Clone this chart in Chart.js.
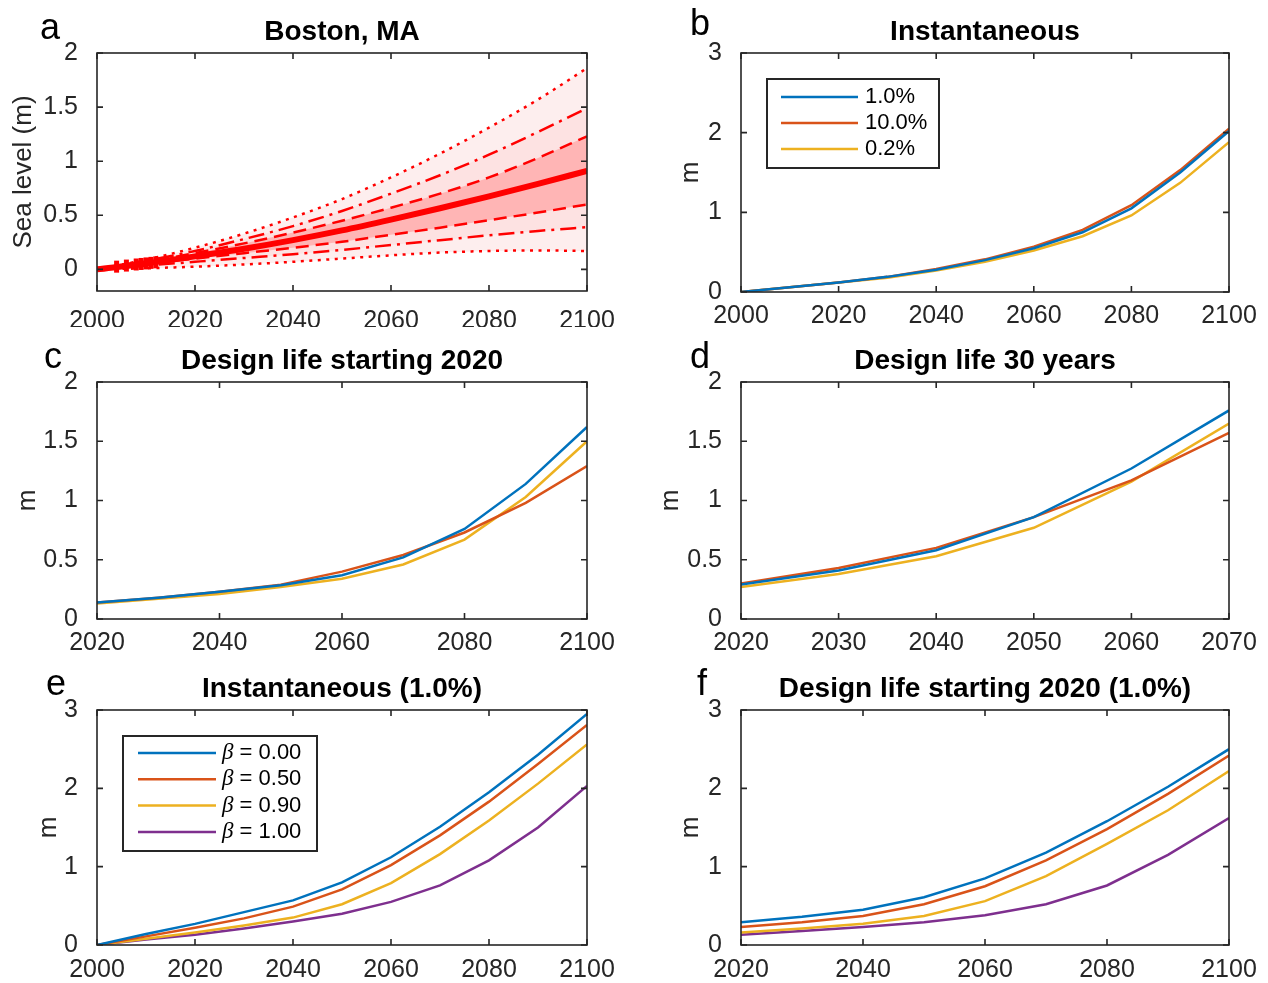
<!DOCTYPE html>
<html>
<head>
<meta charset="utf-8">
<title>Sea level design panels</title>
<script src="https://cdn.jsdelivr.net/npm/chart.js@4.4.1/dist/chart.umd.min.js"></script>
<style>
  html, body { margin: 0; padding: 0; background: #fff; }
  body { position: relative; width: 1268px; height: 983px; overflow: hidden; }
  .panel { position: absolute; }
</style>
</head>
<body>
<div class="panel" id="boxA" style="left:0;top:0;width:634px;height:334px"><canvas id="chartA"></canvas></div>
<div class="panel" id="boxB" style="left:634px;top:0;width:634px;height:334px"><canvas id="chartB"></canvas></div>
<div class="panel" id="boxC" style="left:0;top:334px;width:634px;height:326px"><canvas id="chartC"></canvas></div>
<div class="panel" id="boxD" style="left:634px;top:334px;width:634px;height:326px"><canvas id="chartD"></canvas></div>
<div class="panel" id="boxE" style="left:0;top:660px;width:634px;height:323px"><canvas id="chartE"></canvas></div>
<div class="panel" id="boxF" style="left:634px;top:660px;width:634px;height:323px"><canvas id="chartF"></canvas></div>

<script>
// ---- data ----
const decades = [2000, 2010, 2020, 2030, 2040, 2050, 2060, 2070, 2080, 2090, 2100];
const designYears = [2020, 2030, 2040, 2050, 2060, 2070, 2080, 2090, 2100];
const life30Years = [2020, 2030, 2040, 2050, 2060, 2070];

// a: Boston, MA projection (median and probability bands)
const bostonMedian    = [0, 0.055, 0.12, 0.19, 0.27, 0.36, 0.46, 0.565, 0.675, 0.79, 0.91];
const bostonDotHi     = [0, 0.09, 0.20, 0.33, 0.48, 0.65, 0.85, 1.07, 1.31, 1.57, 1.86];
const bostonDashDotHi = [0, 0.08, 0.17, 0.28, 0.40, 0.54, 0.70, 0.87, 1.06, 1.27, 1.49];
const bostonDashHi    = [0, 0.07, 0.15, 0.24, 0.34, 0.45, 0.57, 0.70, 0.85, 1.03, 1.23];
const bostonDashLo    = [0, 0.05, 0.10, 0.15, 0.20, 0.255, 0.32, 0.385, 0.455, 0.525, 0.60];
const bostonDashDotLo = [0, 0.035, 0.07, 0.105, 0.14, 0.18, 0.225, 0.27, 0.315, 0.355, 0.39];
const bostonDotLo     = [0, 0.01, 0.025, 0.045, 0.07, 0.10, 0.13, 0.155, 0.17, 0.175, 0.17];
const obsYears = [2004, 2006, 2008, 2009, 2010, 2011, 2012];
const obsLevel = [0.025, 0.035, 0.045, 0.05, 0.055, 0.06, 0.065];

// b: instantaneous
const instLabels = ['1.0%', '10.0%', '0.2%'];
const inst1  = [0, 0.06, 0.12, 0.19, 0.28, 0.40, 0.55, 0.75, 1.05, 1.50, 2.02];
const inst10 = [0, 0.06, 0.12, 0.19, 0.29, 0.41, 0.57, 0.78, 1.09, 1.53, 2.05];
const inst02 = [0, 0.06, 0.12, 0.18, 0.27, 0.38, 0.52, 0.70, 0.96, 1.37, 1.88];

// c: design life starting 2020
const design1  = [0.14, 0.18, 0.23, 0.285, 0.37, 0.52, 0.76, 1.14, 1.62];
const design10 = [0.14, 0.18, 0.23, 0.29, 0.40, 0.54, 0.73, 0.98, 1.29];
const design02 = [0.13, 0.17, 0.21, 0.27, 0.34, 0.46, 0.67, 1.03, 1.50];

// d: design life 30 years
const life1  = [0.29, 0.41, 0.58, 0.86, 1.27, 1.76];
const life10 = [0.30, 0.43, 0.60, 0.86, 1.17, 1.57];
const life02 = [0.27, 0.38, 0.53, 0.77, 1.16, 1.65];

// e: instantaneous (1.0%), by beta
const betaLabels = ['β = 0.00', 'β = 0.50', 'β = 0.90', 'β = 1.00'];
const instB000 = [0, 0.14, 0.27, 0.42, 0.57, 0.80, 1.12, 1.51, 1.95, 2.43, 2.95];
const instB050 = [0, 0.11, 0.22, 0.34, 0.49, 0.71, 1.02, 1.40, 1.83, 2.31, 2.81];
const instB090 = [0, 0.08, 0.16, 0.25, 0.35, 0.52, 0.79, 1.16, 1.59, 2.06, 2.56];
const instB100 = [0, 0.07, 0.13, 0.21, 0.30, 0.40, 0.55, 0.76, 1.08, 1.50, 2.03];

// f: design life starting 2020 (1.0%), by beta
const designB000 = [0.29, 0.36, 0.45, 0.61, 0.85, 1.18, 1.58, 2.02, 2.50];
const designB050 = [0.23, 0.29, 0.37, 0.52, 0.75, 1.08, 1.48, 1.93, 2.42];
const designB090 = [0.16, 0.21, 0.27, 0.37, 0.56, 0.88, 1.29, 1.72, 2.22];
const designB100 = [0.13, 0.18, 0.23, 0.29, 0.38, 0.52, 0.76, 1.15, 1.62];

// tick labels
const ticksX2000 = [2000, 2020, 2040, 2060, 2080, 2100];
const ticksX2020 = [2020, 2040, 2060, 2080, 2100];
const ticksX30 = [2020, 2030, 2040, 2050, 2060, 2070];
const ticksY2 = [0, 0.5, 1, 1.5, 2];
const ticksY3 = [0, 1, 2, 3];

// ---- styling ----
const FONT = '"Liberation Sans", Arial, Helvetica, sans-serif';
const AXIS = '#262626';
const BLUE = '#0072BD', ORANGE = '#D95319', YELLOW = '#EDB120', PURPLE = '#7E2F8E';
const RED = '#ff0000';

Chart.defaults.font.family = FONT;
Chart.defaults.color = AXIS;

const pts = (xs, ys) => xs.map((x, i) => ({ x: x, y: ys[i] }));

// axes box, inward ticks, title, panel letter and in-axes legend
const decor = {
  id: 'decor',
  afterDraw(chart, args, o) {
    const { ctx, chartArea: a, scales } = chart;
    ctx.save();
    ctx.strokeStyle = AXIS;
    ctx.lineWidth = 1.6;
    ctx.strokeRect(a.left, a.top, a.right - a.left, a.bottom - a.top);
    ctx.beginPath();
    scales.x.ticks.forEach(t => {
      const px = scales.x.getPixelForValue(t.value);
      ctx.moveTo(px, a.bottom); ctx.lineTo(px, a.bottom - 6);
      ctx.moveTo(px, a.top); ctx.lineTo(px, a.top + 6);
    });
    scales.y.ticks.forEach(t => {
      const py = scales.y.getPixelForValue(t.value);
      ctx.moveTo(a.left, py); ctx.lineTo(a.left + 6, py);
      ctx.moveTo(a.right, py); ctx.lineTo(a.right - 6, py);
    });
    ctx.stroke();

    ctx.fillStyle = '#000';
    ctx.font = 'bold 28px ' + FONT;
    ctx.textAlign = 'center';
    ctx.textBaseline = 'middle';
    ctx.fillText(o.title, (a.left + a.right) / 2, a.top - 21);

    ctx.font = '36px ' + FONT;
    ctx.textAlign = 'left';
    ctx.textBaseline = 'alphabetic';
    ctx.fillText(o.letter, a.left + o.letterDx, a.top + o.letterDy);

    const lg = o.legend;
    if (lg) {
      const bx = a.left + lg.x, by = a.top + lg.y;
      ctx.fillStyle = '#fff';
      ctx.fillRect(bx, by, lg.w, lg.h);
      ctx.strokeStyle = AXIS;
      ctx.lineWidth = 2;
      ctx.strokeRect(bx, by, lg.w, lg.h);
      chart.data.datasets.forEach((ds, i) => {
        const y = by + lg.first + i * lg.step;
        ctx.strokeStyle = ds.borderColor;
        ctx.lineWidth = 2.5;
        ctx.beginPath();
        ctx.moveTo(bx + lg.x0, y); ctx.lineTo(bx + lg.x1, y);
        ctx.stroke();
        ctx.fillStyle = '#000';
        ctx.textBaseline = 'middle';
        let tx = bx + lg.tx;
        let label = ds.label;
        if (label.charAt(0) === 'β') {
          ctx.font = 'italic 23px "Liberation Serif", "DejaVu Serif", serif';
          ctx.fillText('β', tx, y);
          tx += ctx.measureText('β').width;
          label = label.slice(1);
        }
        ctx.font = '22px ' + FONT;
        ctx.fillText(label, tx, y);
      });
    }
    ctx.restore();
  }
};

// panel geometry: plot-area edges in page pixels, y axis width
function makePanel(canvasId, box, area, yWidth, xCfg, yCfg, datasets, deco) {
  const padding = {
    left: area.left - box.left - yWidth,
    top: area.top - box.top,
    right: box.left + box.width - area.right,
    bottom: box.top + box.height - area.bottom - 36
  };
  return new Chart(document.getElementById(canvasId), {
    type: 'line',
    data: { datasets: datasets },
    options: {
      responsive: true,
      maintainAspectRatio: false,
      animation: false,
      layout: { padding: padding },
      elements: { point: { radius: 0 }, line: { borderCapStyle: 'butt' } },
      plugins: {
        legend: { display: false },
        tooltip: { enabled: false },
        filler: { drawTime: 'beforeDatasetsDraw' },
        decor: deco
      },
      scales: {
        x: {
          type: 'linear',
          min: xCfg.min, max: xCfg.max,
          grid: { display: false },
          border: { display: false },
          afterBuildTicks: s => { s.ticks = xCfg.ticks.map(v => ({ value: v })); },
          afterFit: s => { s.height = 36; },
          ticks: {
            font: { size: 25 }, color: AXIS, padding: xCfg.pad, maxRotation: 0,
            callback: v => String(v)
          }
        },
        y: {
          min: yCfg.min, max: yCfg.max,
          grid: { display: false },
          border: { display: false },
          afterBuildTicks: s => { s.ticks = yCfg.ticks.map(v => ({ value: v })); },
          afterFit: s => { s.width = yWidth; },
          title: { display: true, text: yCfg.title, font: { size: 26 }, color: AXIS, padding: 0 },
          ticks: { font: { size: 25 }, color: AXIS, padding: 11, callback: v => String(v) }
        }
      }
    },
    plugins: [decor]
  });
}

function colorLine(label, xs, ys, color) {
  return { label: label, data: pts(xs, ys), borderColor: color, borderWidth: 2.5, tension: 0 };
}

function redLine(label, ys, dash, width, fill, bg) {
  return {
    label: label, data: pts(decades, ys), borderColor: RED, borderWidth: width,
    borderDash: dash, cubicInterpolationMode: 'monotone',
    fill: fill === undefined ? false : fill, backgroundColor: bg || 'transparent'
  };
}

const boxL = (top, h) => ({ left: 0, top: top, width: 634, height: h });
const boxR = (top, h) => ({ left: 634, top: top, width: 634, height: h });

// a
makePanel('chartA', boxL(0, 334), { left: 97, top: 53, right: 587, bottom: 291 }, 88.6,
  { min: 2000, max: 2100, ticks: ticksX2000, pad: 7 },
  { min: -0.2, max: 2, ticks: ticksY2, title: 'Sea level (m)' },
  [
    { label: 'Observed', data: pts(obsYears, obsLevel), showLine: false, pointStyle: 'line',
      rotation: 90, pointRadius: 6, borderColor: RED, borderWidth: 5 },
    redLine('Median', bostonMedian, [], 6),
    redLine('83%', bostonDashHi, [13, 7], 2.5, 3, '#ffb5b5'),
    redLine('17%', bostonDashLo, [13, 7], 2.5),
    redLine('95%', bostonDashDotHi, [16, 6, 3, 6], 2.5, 5, '#fde2e2'),
    redLine('5%', bostonDashDotLo, [16, 6, 3, 6], 2.5),
    redLine('99.9%', bostonDotHi, [3, 5.5], 2.5, 7, '#fdeeee'),
    redLine('0.1%', bostonDotLo, [3, 5.5], 2.5)
  ],
  { title: 'Boston, MA', letter: 'a', letterDx: -57, letterDy: -14 });

// b
makePanel('chartB', boxR(0, 334), { left: 741, top: 53, right: 1229, bottom: 292 }, 65.6,
  { min: 2000, max: 2100, ticks: ticksX2000, pad: 1 },
  { min: 0, max: 3, ticks: ticksY3, title: 'm' },
  [
    colorLine(instLabels[0], decades, inst1, BLUE),
    colorLine(instLabels[1], decades, inst10, ORANGE),
    colorLine(instLabels[2], decades, inst02, YELLOW)
  ],
  { title: 'Instantaneous', letter: 'b', letterDx: -51, letterDy: -18,
    legend: { x: 26, y: 26, w: 172, h: 89, first: 18, step: 26, x0: 14, x1: 91, tx: 98 } });

// c
makePanel('chartC', boxL(334, 326), { left: 97, top: 382, right: 587, bottom: 619 }, 84.6,
  { min: 2020, max: 2100, ticks: ticksX2020, pad: 1 },
  { min: 0, max: 2, ticks: ticksY2, title: 'm' },
  [
    colorLine(instLabels[0], designYears, design1, BLUE),
    colorLine(instLabels[1], designYears, design10, ORANGE),
    colorLine(instLabels[2], designYears, design02, YELLOW)
  ],
  { title: 'Design life starting 2020', letter: 'c', letterDx: -53, letterDy: -14 });

// d
makePanel('chartD', boxR(334, 326), { left: 741, top: 382, right: 1229, bottom: 619 }, 85.6,
  { min: 2020, max: 2070, ticks: ticksX30, pad: 1 },
  { min: 0, max: 2, ticks: ticksY2, title: 'm' },
  [
    colorLine(instLabels[0], life30Years, life1, BLUE),
    colorLine(instLabels[1], life30Years, life10, ORANGE),
    colorLine(instLabels[2], life30Years, life02, YELLOW)
  ],
  { title: 'Design life 30 years', letter: 'd', letterDx: -51, letterDy: -14 });

// e
makePanel('chartE', boxL(660, 323), { left: 97, top: 710, right: 587, bottom: 945 }, 63.6,
  { min: 2000, max: 2100, ticks: ticksX2000, pad: 2 },
  { min: 0, max: 3, ticks: ticksY3, title: 'm' },
  [
    colorLine(betaLabels[0], decades, instB000, BLUE),
    colorLine(betaLabels[1], decades, instB050, ORANGE),
    colorLine(betaLabels[2], decades, instB090, YELLOW),
    colorLine(betaLabels[3], decades, instB100, PURPLE)
  ],
  { title: 'Instantaneous (1.0%)', letter: 'e', letterDx: -51, letterDy: -15,
    legend: { x: 26, y: 26, w: 194, h: 115, first: 17, step: 26.3, x0: 15, x1: 93, tx: 99 } });

// f
makePanel('chartF', boxR(660, 323), { left: 741, top: 710, right: 1229, bottom: 945 }, 65.6,
  { min: 2020, max: 2100, ticks: ticksX2020, pad: 2 },
  { min: 0, max: 3, ticks: ticksY3, title: 'm' },
  [
    colorLine(betaLabels[0], designYears, designB000, BLUE),
    colorLine(betaLabels[1], designYears, designB050, ORANGE),
    colorLine(betaLabels[2], designYears, designB090, YELLOW),
    colorLine(betaLabels[3], designYears, designB100, PURPLE)
  ],
  { title: 'Design life starting 2020 (1.0%)', letter: 'f', letterDx: -44, letterDy: -15 });
</script>
</body>
</html>
